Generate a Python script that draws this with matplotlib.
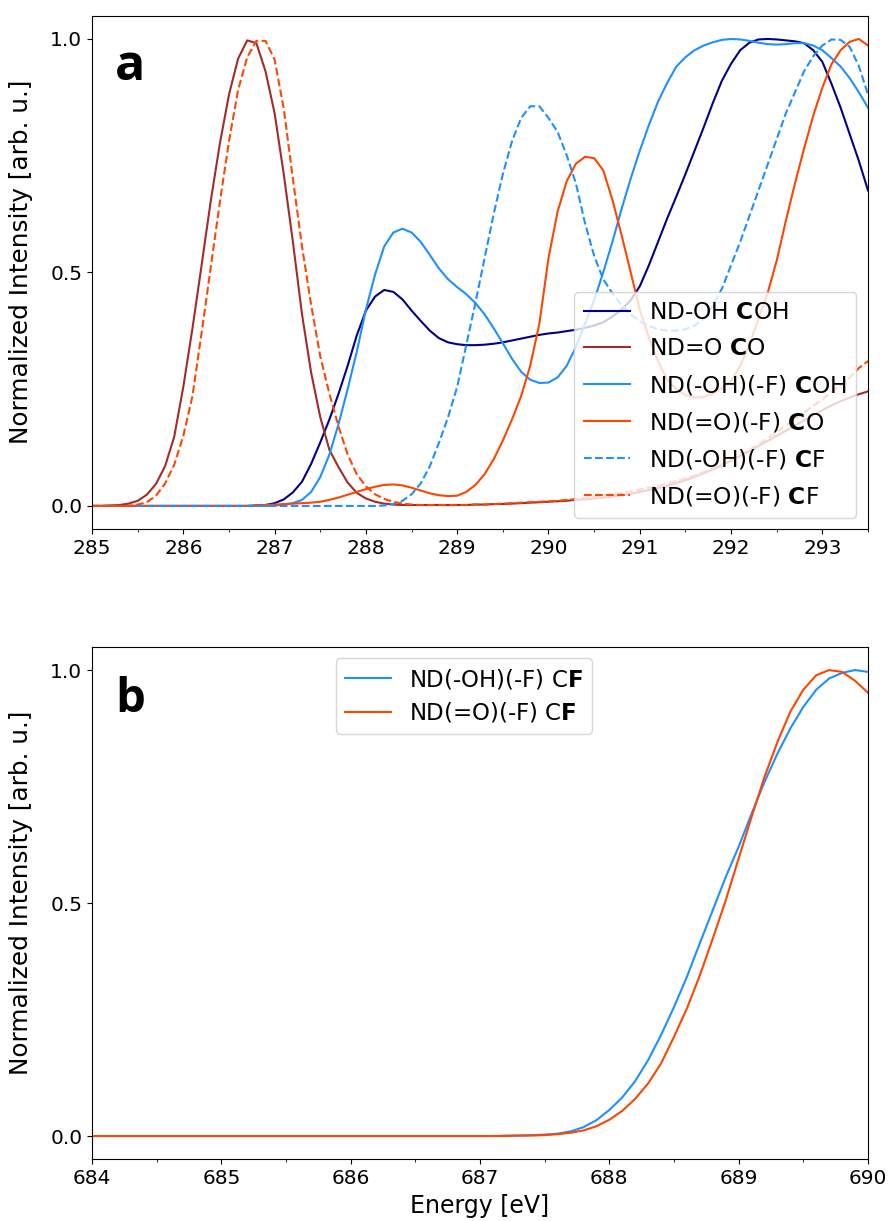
import matplotlib
matplotlib.use("Agg")
import matplotlib.pyplot as plt
from matplotlib.ticker import MultipleLocator, FormatStrFormatter

# ---- panel a: C K-edge, 0.1 eV grid ----
energy_a = [
    285.0, 285.1, 285.2, 285.3, 285.4, 285.5, 285.6, 285.7, 285.8, 285.9,
    286.0, 286.1, 286.2, 286.3, 286.4, 286.5, 286.6, 286.7, 286.8, 286.9,
    287.0, 287.1, 287.2, 287.3, 287.4, 287.5, 287.6, 287.7, 287.8, 287.9,
    288.0, 288.1, 288.2, 288.3, 288.4, 288.5, 288.6, 288.7, 288.8, 288.9,
    289.0, 289.1, 289.2, 289.3, 289.4, 289.5, 289.6, 289.7, 289.8, 289.9,
    290.0, 290.1, 290.2, 290.3, 290.4, 290.5, 290.6, 290.7, 290.8, 290.9,
    291.0, 291.1, 291.2, 291.3, 291.4, 291.5, 291.6, 291.7, 291.8, 291.9,
    292.0, 292.1, 292.2, 292.3, 292.4, 292.5, 292.6, 292.7, 292.8, 292.9,
    293.0, 293.1, 293.2, 293.3, 293.4, 293.5,
]

nd_oh_coh = [
    0, 0, 0, 0, 0, 0, 0, 0, 0, 0,
    0, 0, 0, 0, 0, 0, 0, 0, 0.001, 0.002,
    0.006, 0.014, 0.029, 0.052, 0.09, 0.136, 0.185, 0.24, 0.30, 0.365,
    0.418, 0.448, 0.462, 0.458, 0.442, 0.418, 0.396, 0.375, 0.359, 0.350,
    0.346, 0.344, 0.344, 0.345, 0.347, 0.350, 0.354, 0.358, 0.362, 0.366,
    0.369, 0.371, 0.374, 0.377, 0.381, 0.386, 0.393, 0.405, 0.42, 0.44,
    0.47, 0.515, 0.565, 0.615, 0.662, 0.71, 0.76, 0.81, 0.862, 0.91,
    0.946, 0.975, 0.991, 0.998, 0.999, 0.998, 0.996, 0.994, 0.99, 0.975,
    0.95, 0.903, 0.852, 0.795, 0.738, 0.675,
]

nd_o_co = [
    0, 0, 0.001, 0.002, 0.005, 0.011, 0.024, 0.047, 0.085, 0.148,
    0.255, 0.38, 0.515, 0.652, 0.775, 0.88, 0.957, 0.996, 0.99, 0.93,
    0.84, 0.71, 0.565, 0.41, 0.285, 0.19, 0.12, 0.083, 0.05, 0.028,
    0.016, 0.009, 0.005, 0.003, 0.002, 0.002, 0.002, 0.002, 0.002, 0.002,
    0.002, 0.002, 0.003, 0.003, 0.004, 0.004, 0.005, 0.006, 0.007, 0.008,
    0.009, 0.01, 0.011, 0.013, 0.014, 0.016, 0.018, 0.02, 0.023, 0.026,
    0.03, 0.034, 0.038, 0.043, 0.049, 0.055, 0.062, 0.07, 0.078, 0.087,
    0.097, 0.107, 0.117, 0.128, 0.139, 0.15, 0.161, 0.172, 0.183, 0.194,
    0.205, 0.215, 0.224, 0.232, 0.239, 0.245,
]

nd_ohf_coh = [
    0, 0, 0, 0, 0, 0, 0, 0, 0, 0,
    0, 0, 0, 0, 0, 0, 0, 0, 0, 0,
    0.001, 0.003, 0.006, 0.013, 0.03, 0.062, 0.11, 0.175, 0.25, 0.33,
    0.42, 0.495, 0.555, 0.585, 0.593, 0.585, 0.565, 0.537, 0.508, 0.485,
    0.468, 0.453, 0.434, 0.41, 0.38, 0.348, 0.315, 0.287, 0.27, 0.263,
    0.264, 0.275, 0.30, 0.34, 0.39, 0.44, 0.50, 0.565, 0.635, 0.70,
    0.76, 0.815, 0.865, 0.905, 0.94, 0.96, 0.975, 0.985, 0.992, 0.997,
    0.999, 0.998, 0.995, 0.991, 0.988, 0.987, 0.988, 0.99, 0.99, 0.985,
    0.975, 0.958, 0.94, 0.915, 0.885, 0.852,
]

nd_of_co = [
    0, 0, 0, 0, 0, 0, 0, 0, 0, 0,
    0, 0, 0, 0, 0, 0, 0, 0, 0.001, 0.002,
    0.003, 0.004, 0.005, 0.006, 0.007, 0.009, 0.013, 0.018, 0.024, 0.03,
    0.036, 0.041, 0.045, 0.046, 0.044, 0.039, 0.033, 0.027, 0.023, 0.021,
    0.022, 0.03, 0.045, 0.068, 0.1, 0.14, 0.185, 0.235, 0.30, 0.39,
    0.53, 0.63, 0.695, 0.732, 0.747, 0.744, 0.718, 0.655, 0.58, 0.50,
    0.42, 0.36, 0.31, 0.27, 0.25, 0.237, 0.232, 0.233, 0.24, 0.252,
    0.267, 0.30, 0.345, 0.40, 0.455, 0.525, 0.61, 0.69, 0.765, 0.835,
    0.895, 0.945, 0.975, 0.993, 0.999, 0.985,
]

nd_ohf_cf = [
    0, 0, 0, 0, 0, 0, 0, 0, 0, 0,
    0, 0, 0, 0, 0, 0, 0, 0, 0, 0,
    0, 0, 0, 0, 0, 0, 0, 0, 0, 0,
    0, 0, 0.001, 0.004, 0.011, 0.025, 0.048, 0.085, 0.135, 0.19,
    0.255, 0.345, 0.435, 0.53, 0.625, 0.71, 0.78, 0.83, 0.855, 0.855,
    0.83, 0.80, 0.75, 0.69, 0.605, 0.535, 0.485, 0.455, 0.43, 0.41,
    0.395, 0.385, 0.378, 0.375, 0.375, 0.378, 0.386, 0.40, 0.428, 0.465,
    0.515, 0.565, 0.62, 0.675, 0.73, 0.785, 0.84, 0.885, 0.93, 0.962,
    0.985, 0.998, 0.997, 0.982, 0.941, 0.88,
]

nd_of_cf = [
    0, 0, 0, 0, 0, 0.003, 0.008, 0.022, 0.048, 0.088,
    0.15, 0.235, 0.37, 0.51, 0.65, 0.78, 0.89, 0.96, 0.995, 0.995,
    0.955, 0.85, 0.70, 0.555, 0.43, 0.32, 0.24, 0.17, 0.11, 0.068,
    0.042, 0.025, 0.015, 0.009, 0.005, 0.003, 0.002, 0.002, 0.002, 0.002,
    0.002, 0.002, 0.003, 0.003, 0.004, 0.005, 0.006, 0.007, 0.008, 0.009,
    0.01, 0.011, 0.013, 0.015, 0.017, 0.019, 0.022, 0.025, 0.028, 0.031,
    0.035, 0.039, 0.043, 0.048, 0.053, 0.059, 0.065, 0.072, 0.08, 0.089,
    0.098, 0.109, 0.12, 0.132, 0.145, 0.158, 0.172, 0.186, 0.2, 0.214,
    0.228, 0.243, 0.258, 0.275, 0.295, 0.31,
]

# ---- panel b: F K-edge ----
energy_b = [
    684.0, 685.0, 686.0, 687.0, 687.1, 687.2, 687.3, 687.4, 687.5, 687.6,
    687.7, 687.8, 687.9, 688.0, 688.1, 688.2, 688.3, 688.4, 688.5, 688.6,
    688.7, 688.8, 688.9, 689.0, 689.1, 689.2, 689.3, 689.4, 689.5, 689.6,
    689.7, 689.8, 689.9, 690.0,
]

nd_ohf_cf_b = [
    0, 0, 0, 0, 0, 0.001, 0.001, 0.002, 0.003, 0.005,
    0.01, 0.019, 0.034, 0.056, 0.083, 0.118, 0.163, 0.217, 0.277, 0.342,
    0.414, 0.485, 0.556, 0.621, 0.692, 0.760, 0.821, 0.875, 0.921, 0.958,
    0.982, 0.994, 1.0, 0.996,
]

nd_of_cf_b = [
    0, 0, 0, 0, 0, 0, 0.001, 0.001, 0.002, 0.004,
    0.007, 0.012, 0.021, 0.035, 0.054, 0.08, 0.113, 0.156, 0.213, 0.274,
    0.345, 0.424, 0.506, 0.596, 0.685, 0.771, 0.846, 0.911, 0.958, 0.989,
    1.0, 0.996, 0.977, 0.951,
]

labels_a = [
    r"ND-OH $\mathbf{C}$OH",
    r"ND=O $\mathbf{C}$O",
    r"ND(-OH)(-F) $\mathbf{C}$OH",
    r"ND(=O)(-F) $\mathbf{C}$O",
    r"ND(-OH)(-F) $\mathbf{C}$F",
    r"ND(=O)(-F) $\mathbf{C}$F",
]
labels_b = [r"ND(-OH)(-F) C$\mathbf{F}$", r"ND(=O)(-F) C$\mathbf{F}$"]

TICK_SIZE = 14.5
LABEL_SIZE = 17
LEGEND_SIZE = 16.8


def style_axis(ax, xmin, xmax):
    ax.set_xlim(xmin, xmax)
    ax.xaxis.set_major_locator(MultipleLocator(1))
    ax.xaxis.set_minor_locator(MultipleLocator(0.5))
    ax.set_yticks([0.0, 0.5, 1.0])
    ax.yaxis.set_major_formatter(FormatStrFormatter("%.1f"))
    ax.tick_params(labelsize=TICK_SIZE)
    ax.set_ylabel("Normalized Intensity [arb. u.]", fontsize=17.8)
    ax.yaxis.set_label_coords(-0.076, 0.52)


fig = plt.figure(figsize=(8.91, 12.21), dpi=100)
ax_a = fig.add_axes([0.1033, 0.5665, 0.8709, 0.4207])
ax_b = fig.add_axes([0.1033, 0.0505, 0.8709, 0.4198])

# panel a
ax_a.plot(energy_a, nd_oh_coh, color="darkblue", label=labels_a[0])
ax_a.plot(energy_a, nd_o_co, color="brown", label=labels_a[1])
ax_a.plot(energy_a, nd_ohf_coh, color="dodgerblue", label=labels_a[2])
ax_a.plot(energy_a, nd_of_co, color="orangered", label=labels_a[3])
ax_a.plot(energy_a, nd_ohf_cf, color="dodgerblue", linestyle="--", label=labels_a[4])
ax_a.plot(energy_a, nd_of_cf, color="orangered", linestyle="--", label=labels_a[5])
style_axis(ax_a, 285, 293.5)
ax_a.legend(loc="lower right", fontsize=LEGEND_SIZE, labelspacing=0.56)
ax_a.text(0.03, 0.875, "a", transform=ax_a.transAxes, fontsize=36,
          fontweight="bold", family="Open Sans", va="baseline")

# panel b
ax_b.plot(energy_b, nd_ohf_cf_b, color="dodgerblue", label=labels_b[0])
ax_b.plot(energy_b, nd_of_cf_b, color="orangered", label=labels_b[1])
style_axis(ax_b, 684, 690)
ax_b.set_xlabel("Energy [eV]", fontsize=LABEL_SIZE)
ax_b.legend(loc="upper center", bbox_to_anchor=(0.479, 1.0), fontsize=16.5,
            labelspacing=0.4)
ax_b.text(0.03, 0.873, "b", transform=ax_b.transAxes, fontsize=34,
          fontweight="bold", family="Open Sans", va="baseline")

fig.savefig("out.png", dpi=100)
